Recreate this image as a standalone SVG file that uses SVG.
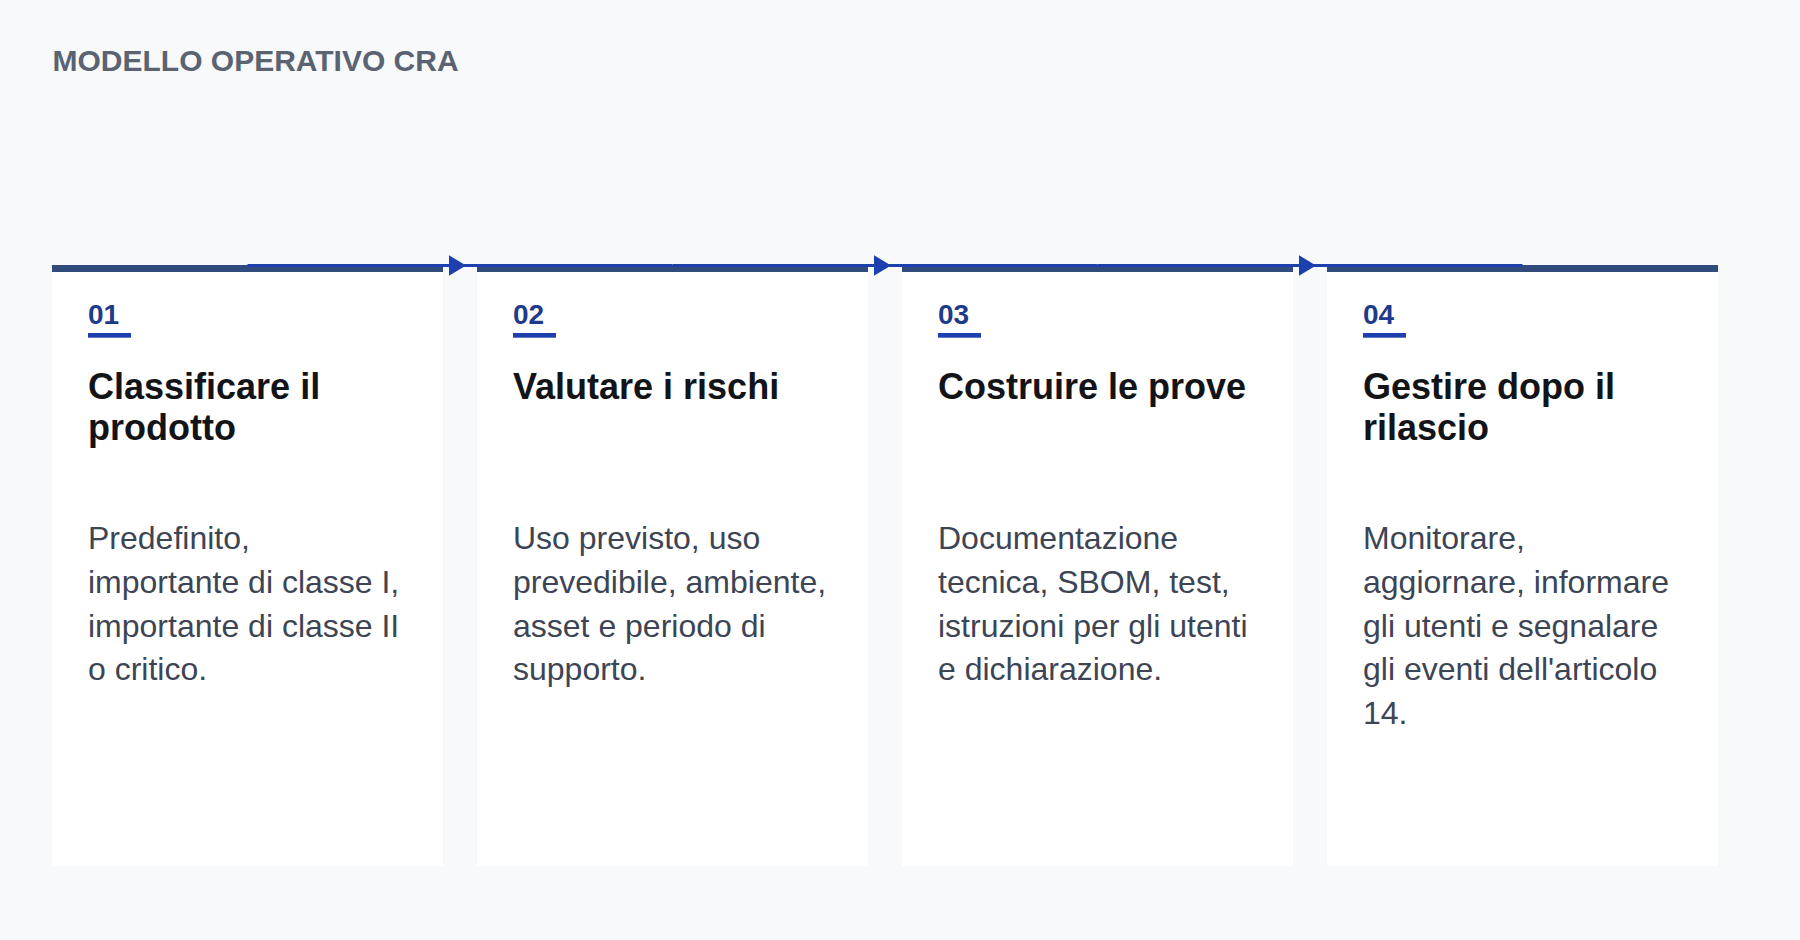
<svg xmlns="http://www.w3.org/2000/svg" width="1800" height="940" viewBox="0 0 1800 940">
<style>
.bg{fill:#f8f9fb}
.card{fill:#ffffff}
.bar{fill:#304b7c}
.hdr{font-family:"Liberation Sans",Arial,sans-serif;font-weight:700;font-size:30px;fill:#5a6372}
.num{font-family:"Liberation Sans",Arial,sans-serif;font-weight:700;font-size:28px;fill:#1e3a8a}
.uline{fill:#1e40af}
.ttl{font-family:"Liberation Sans",Arial,sans-serif;font-weight:700;font-size:36px;fill:#121418}
.body{font-family:"Liberation Sans",Arial,sans-serif;font-size:32px;fill:#3d4554}
.conn{stroke:#1e40af;stroke-width:3;fill:none}
.head{fill:#1e40af}
</style>
<defs>
<marker id="arr" markerUnits="userSpaceOnUse" markerWidth="20" markerHeight="22" viewBox="0 0 20 22" refX="11" refY="10.3" orient="auto">
<path class="head" d="M0,0 L17,10.3 L0,20.5 Z"/>
</marker>
</defs>
<rect class="bg" x="0" y="0" width="1800" height="940"/>
<text class="hdr" x="52.5" y="70.5">MODELLO OPERATIVO CRA</text>

<g id="step1">
<rect class="card" x="52" y="265" width="391" height="601"/>
<rect class="bar" x="52" y="265" width="391" height="7"/>
<text class="num" x="88" y="324">01</text>
<rect class="uline" x="88" y="333" width="43" height="4.7"/>
<text class="ttl" x="88" y="399">Classificare il<tspan x="88" dy="40.5">prodotto</tspan></text>
<text class="body" x="88" y="549">Predefinito,<tspan x="88" dy="43.8">importante di classe I,</tspan><tspan x="88" dy="43.8">importante di classe II</tspan><tspan x="88" dy="43.8">o critico.</tspan></text>
</g>

<g id="step2">
<rect class="card" x="477" y="265" width="391" height="601"/>
<rect class="bar" x="477" y="265" width="391" height="7"/>
<text class="num" x="513" y="324">02</text>
<rect class="uline" x="513" y="333" width="43" height="4.7"/>
<text class="ttl" x="513" y="399">Valutare i rischi</text>
<text class="body" x="513" y="549">Uso previsto, uso<tspan x="513" dy="43.8">prevedibile, ambiente,</tspan><tspan x="513" dy="43.8">asset e periodo di</tspan><tspan x="513" dy="43.8">supporto.</tspan></text>
</g>

<g id="step3">
<rect class="card" x="902" y="265" width="391" height="601"/>
<rect class="bar" x="902" y="265" width="391" height="7"/>
<text class="num" x="938" y="324">03</text>
<rect class="uline" x="938" y="333" width="43" height="4.7"/>
<text class="ttl" x="938" y="399">Costruire le prove</text>
<text class="body" x="938" y="549">Documentazione<tspan x="938" dy="43.8">tecnica, SBOM, test,</tspan><tspan x="938" dy="43.8">istruzioni per gli utenti</tspan><tspan x="938" dy="43.8">e dichiarazione.</tspan></text>
</g>

<g id="step4">
<rect class="card" x="1327" y="265" width="391" height="601"/>
<rect class="bar" x="1327" y="265" width="391" height="7"/>
<text class="num" x="1363" y="324">04</text>
<rect class="uline" x="1363" y="333" width="43" height="4.7"/>
<text class="ttl" x="1363" y="399">Gestire dopo il<tspan x="1363" dy="40.5">rilascio</tspan></text>
<text class="body" x="1363" y="549">Monitorare,<tspan x="1363" dy="43.8">aggiornare, informare</tspan><tspan x="1363" dy="43.8">gli utenti e segnalare</tspan><tspan x="1363" dy="43.8">gli eventi dell'articolo</tspan><tspan x="1363" dy="43.8">14.</tspan></text>
</g>

<g id="connectors">
<path class="conn" d="M247.5,265.5 L460,265.5 L672.5,265.5" marker-mid="url(#arr)"/>
<path class="conn" d="M672.5,265.5 L885,265.5 L1097.5,265.5" marker-mid="url(#arr)"/>
<path class="conn" d="M1097.5,265.5 L1310,265.5 L1522.5,265.5" marker-mid="url(#arr)"/>
</g>
</svg>
